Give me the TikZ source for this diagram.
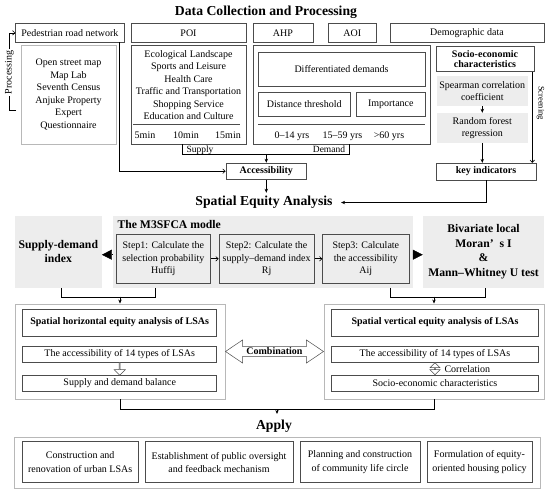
\documentclass[tikz,border=0pt]{standalone}
\usepackage{fontspec}
\setmainfont{Liberation Serif}
\usetikzlibrary{arrows.meta,shapes.arrows,calc}
\definecolor{boxline}{gray}{0.3}
\definecolor{paleline}{gray}{0.72}
\definecolor{panelgray}{gray}{0.93}
\tikzset{
	box/.style={draw=boxline,line width=0.6pt,inner sep=1pt,align=center},
	pale/.style={draw=paleline,line width=0.9pt},
	panel/.style={fill=panelgray,inner sep=1pt},
	ttl/.style={font=\fontsize{13.7}{16}\selectfont\bfseries},
	hd/.style={font=\fontsize{11.7}{14.5}\selectfont\bfseries,align=center},
	link/.style={line width=0.6pt,-{Stealth[length=4pt,width=3.4pt]}},
	barb/.style={line width=0.6pt,-{Straight Barb[length=2.5pt,width=4.5pt]}},
	bar/.style={line width=0.6pt},
	hollow/.style={draw=boxline,line width=0.5pt,fill=white,inner sep=0pt},
}

\begin{document}
\begin{tikzpicture}[x=1pt,y=-1pt,font=\fontsize{10}{12.5}\selectfont]
	\useasboundingbox (0,0) rectangle (550,492);
	\fill[white] (0,0) rectangle (550,492);
	% data collection
	\node[ttl,anchor=base] (data) at (266,15.5) {Data Collection and Processing};
	\node[box,minimum width=108.3pt,minimum height=18.3pt] (ped) at (69.85,32.85) {Pedestrian road network};
	\node[box,minimum width=115pt,minimum height=18.3pt] (poi) at (188.5,32.85) {POI};
	\node[box,minimum width=60pt,minimum height=18.3pt] (ahp) at (283,32.85) {AHP};
	\node[box,minimum width=48.7pt,minimum height=18.3pt] (aoi) at (352.35,32.85) {AOI};
	\node[box,minimum width=154pt,minimum height=18.3pt] (demo) at (467,32.85) {Demographic data};
	\node[pale,minimum width=95pt,minimum height=99pt,align=center] (src) at (68.5,94.5) {Open street map\\Map Lab\\Seventh Census\\Anjuke Property\\Expert\\Questionnaire};
	\coordinate (procend) at (16,110.7);
	\draw[barb] (procend) -| ([xshift=-6.2pt]ped.west) -- (ped.west);
	\node[rotate=90,fill=white,inner sep=1.5pt] (proc) at (9.5,72.5) {Processing};
	% POI
	\node[box,minimum width=115pt,minimum height=99pt] (poibox) at (188.5,94.5) {};
	\node[align=center] (types) at (188.5,85) {Ecological Landscape\\Sports and Leisure\\Health Care\\Traffic and Transportation\\Shopping Service\\Education and Culture};
	\draw[boxline,line width=0.4pt] (133,124) -- (240,124);
	\node[anchor=base] (t5) at (145,138.3) {5min};
	\node[anchor=base] (t10) at (186,138.3) {10min};
	\node[anchor=base] (t15) at (228,138.3) {15min};
	% demand
	\node[box,minimum width=177pt,minimum height=99pt] (dembox) at (341.5,94.5) {};
	\node[box,minimum width=167pt,minimum height=33.3pt] (diff) at (341.5,69.3) {Differentiated demands};
	\node[box,minimum width=92.7pt,minimum height=24.7pt] (dist) at (304.3,104.3) {Distance threshold};
	\node[box,minimum width=68.3pt,minimum height=24.7pt] (imp) at (390.8,104.3) {Importance};
	\draw[boxline,line width=0.4pt] (258,124) -- (425,124);
	\node[anchor=base] (age1) at (292,138.3) {0–14 yrs};
	\node[anchor=base] (age2) at (342.5,138.3) {15–59 yrs};
	\node[anchor=base] (age3) at (389,138.3) {>60 yrs};
	% socio-economic
	\node[box,font=\fontsize{10}{10.7}\selectfont\bfseries,minimum width=98pt,minimum height=25pt] (socio) at (485,59.2) {Socio-economic\\characteristics};
	\node[panel,minimum width=91.3pt,minimum height=30pt,align=center] (spear) at (482.3,91) {Spearman correlation\\coefficient};
	\node[panel,minimum width=91.3pt,minimum height=30pt,align=center] (rf) at (482.3,128) {Random forest\\regression};
	\node[box,font=\bfseries,minimum width=100pt,minimum height=16.7pt] (key) at (486,171.6) {key indicators};
	\draw[link] (spear) -- (rf);
	\draw[link] (rf.south) -- (rf.south |- key.north);
	\draw[barb] ([xshift=-2pt]socio.south east) -- ([xshift=-2pt]socio.south east |- key.north);
	\node[rotate=-90,font=\fontsize{8.5}{10}\selectfont] (scr) at (540.5,103) {Screening};
	% accessibility
	\node[box,font=\bfseries,minimum width=80.7pt,minimum height=16.3pt] (acc) at (266.3,171.2) {Accessibility};
	\draw[bar] ([xshift=-6.2pt]poibox.south) -- ++(0,10) -| ([xshift=7.5pt]dembox.south);
	\node[font=\fontsize{9.5}{11}\selectfont,anchor=base] (sup) at (200,152.3) {Supply};
	\node[font=\fontsize{9.5}{11}\selectfont,anchor=base] (dmd) at (329,152.3) {Demand};
	\coordinate (sd) at (266.3,154);
	\draw[link] (sd) -- (acc);
	\draw[barb] ([xshift=49.15pt]ped.south) |- (acc.west);
	% spatial equity
	\node[ttl,anchor=base] (equity) at (264,205.8) {Spatial Equity Analysis};
	\draw[link] (acc.south) -- (acc.south |- equity.north);
	\draw[link,shorten >=5pt] (key.south) |- (equity.east);
	\node[panel,minimum width=86.7pt,minimum height=72pt,hd] (sdi) at (58.35,251.7) {Supply-demand\\index};
	\node[panel,minimum width=299.7pt,minimum height=72pt] (m3) at (262.85,251.7) {};
	\node[hd,anchor=base west] (m3t) at (114,228.3) {The M3SFCA modle};
	\node[box,minimum width=94.7pt,minimum height=49pt] (s1) at (163.35,258.8) {Step1: Calculate the\\selection probability\\Huffij};
	\node[box,minimum width=95.3pt,minimum height=49pt] (s2) at (266.65,258.8) {Step2: Calculate the\\supply–demand index\\Rj};
	\node[box,minimum width=86.3pt,minimum height=49pt] (s3) at (365.85,258.8) {Step3: Calculate\\the accessibility\\Aij};
	\draw[barb] (s1) -- (s2);
	\draw[barb] (s2) -- (s3);
	\node[panel,minimum width=121pt,minimum height=72pt,hd] (biv) at (483.5,251.7) {Bivariate local\\Moran’\hspace{3pt} s I\\\&\\Mann–Whitney U test};
	\draw[-{Triangle[length=10pt,width=10pt]}] ([yshift=-3pt]m3.west) -- ([yshift=-3pt]sdi.east);
	\draw[-{Triangle[length=10pt,width=10pt]}] ([yshift=-3pt]m3.east) -- ([yshift=-3pt]biv.west);
	\draw[bar] ([xshift=2.65pt]sdi.south) -- ++(0,9) -| ([xshift=-107.55pt]m3.south);
	\draw[bar] ([xshift=127.85pt]m3.south) -- ++(0,9) -| ([xshift=1.5pt]biv.south);
	% horizontal and vertical equity
	\node[pale,minimum width=210pt,minimum height=95pt] (hor) at (120,351.5) {};
	\node[pale,minimum width=220pt,minimum height=95pt] (ver) at (434,351.5) {};
	\coordinate (jl) at (120,296.7);
	\coordinate (jr) at (434,296.7);
	\draw[link] (jl) -- (hor.north);
	\draw[link] (jr) -- (ver.north);
	\node[box,font=\bfseries,minimum width=194pt,minimum height=27pt] (h1) at (119.7,322.5) {Spatial horizontal equity analysis of LSAs};
	\node[box,minimum width=194pt,minimum height=16.3pt] (h2) at (119.7,354.15) {The accessibility of 14 types of LSAs};
	\node[box,minimum width=194pt,minimum height=16.7pt] (h3) at (119.7,383.35) {Supply and demand balance};
	\node[hollow,single arrow,shape border rotate=270,minimum height=12.7pt,minimum width=11pt,single arrow head extend=2.7pt] (hdown) at ($(h2.south)!0.5!(h3.north)$) {};
	\node[box,font=\bfseries,minimum width=206.6pt,minimum height=27pt] (v1) at (435,322.5) {Spatial vertical equity analysis of LSAs};
	\node[box,minimum width=206.6pt,minimum height=16.3pt] (v2) at (435,354.15) {The accessibility of 14 types of LSAs};
	\node[box,minimum width=206.6pt,minimum height=16.7pt] (v3) at (435,383.35) {Socio-economic characteristics};
	\node[hollow,double arrow,shape border rotate=90,minimum height=12pt,minimum width=10pt,double arrow head extend=2.5pt] (vboth) at ($(v2.south)!0.5!(v3.north)$) {};
	\node[anchor=west] (corr) at (441,368.7) {Correlation};
	\node[hollow,double arrow,minimum height=98pt,minimum width=23pt,double arrow head extend=5pt,double arrow tip angle=68,font=\bfseries] (comb) at ($(hor.east)!0.5!(ver.west)$) {Combination};
	% apply
	\draw[bar] (hor.south) -- ++(0,10.3) -| (ver.south);
	\node[ttl,anchor=base] (apply) at (274,430) {Apply};
	\coordinate (ja) at (277,409.3);
	\draw[link,shorten >=3pt] (ja) -- (ja |- apply.north);
	\node[pale,minimum width=526pt,minimum height=50.6pt] (plan) at (277,463) {};
	\node[box,minimum width=116.3pt,minimum height=41pt,font=\fontsize{10}{13.3}\selectfont] (p1) at (80.15,462.2) {Construction and\\renovation of urban LSAs};
	\node[box,minimum width=148pt,minimum height=41pt,font=\fontsize{10}{13.3}\selectfont] (p2) at (219,462.2) {Establishment of public oversight\\and feedback mechanism};
	\node[box,minimum width=120pt,minimum height=41pt,font=\fontsize{10}{13.3}\selectfont] (p3) at (360,462.2) {Planning and construction\\of community life circle};
	\node[box,minimum width=105pt,minimum height=41pt,font=\fontsize{10}{13.3}\selectfont] (p4) at (479.5,462.2) {Formulation of equity-\\oriented housing policy};
\end{tikzpicture}
\end{document}
